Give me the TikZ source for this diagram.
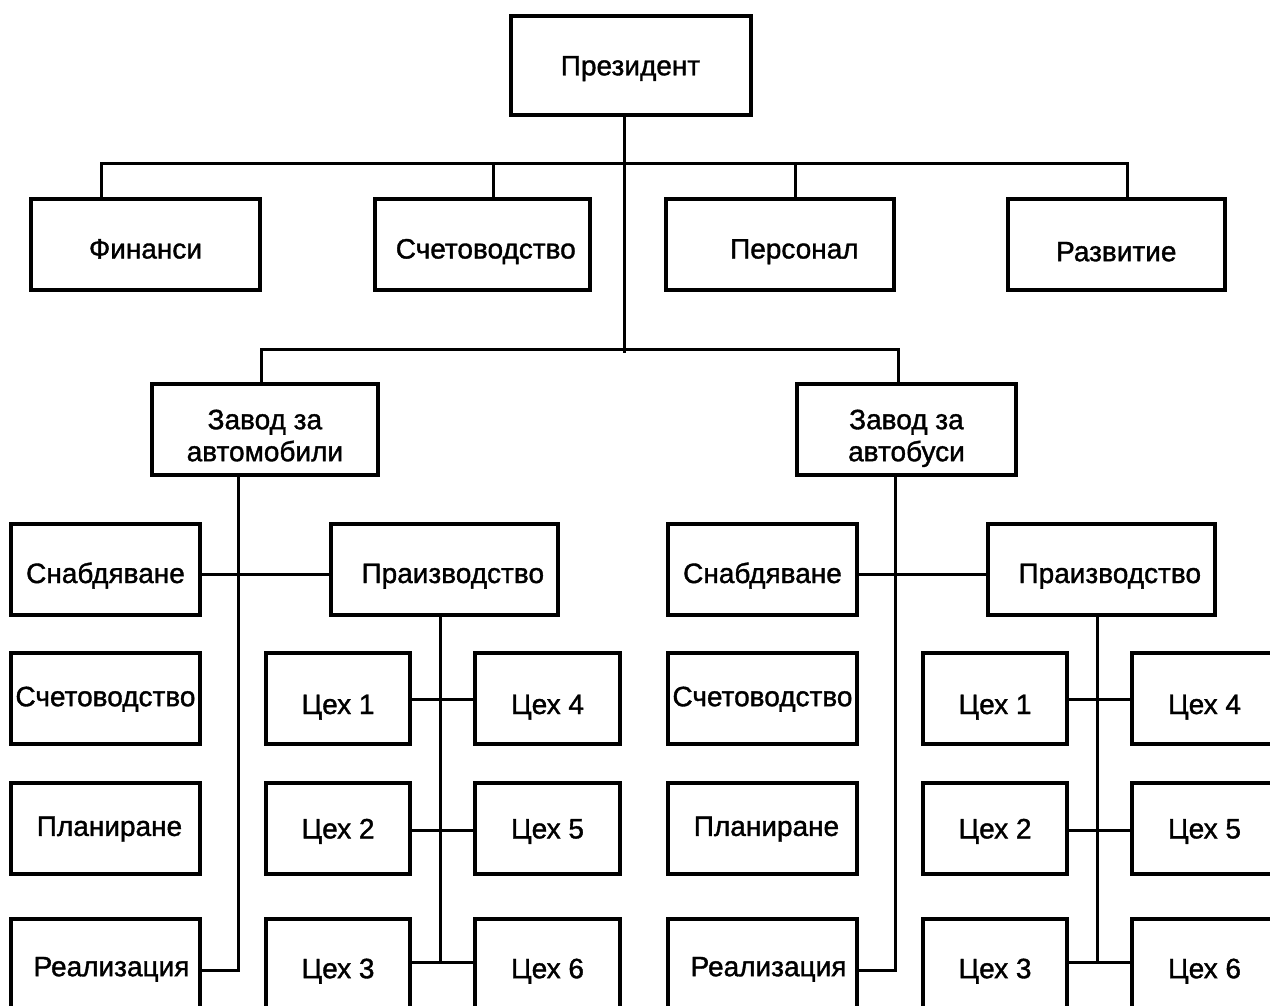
\documentclass[tikz,border=0pt]{standalone}
\usepackage{fontspec}
\setmainfont[RawFeature={embolden=1.3}]{Liberation Sans}
\begin{document}
\begin{tikzpicture}[x=1pt,y=-1pt,
  box/.style={draw, line width=4pt, inner sep=0pt, align=center,
    font=\fontsize{28}{32}\selectfont},
  one/.style={text height=#1, text depth=0pt},
  one/.default=20pt,
  two/.style={align=flush center, text height=20pt, text depth=20pt},
  link/.style={line width=3pt}]
\path[use as bounding box] (0,0) rectangle (1270,1006);
\fill[white] (0,0) rectangle (1270,1006);
\clip (0,0) rectangle (1270,1006);

% top management
\node[box,one=20pt,minimum width=240pt,minimum height=98.7pt] (pres) at (630.5,65.3) {Президент};

\node[box,one=27.4pt,minimum width=228.4pt,minimum height=91pt] (fin)  at (145.5,244.8) {Финанси};
\node[box,one=27.4pt,minimum width=214.4pt,minimum height=91pt] (sch)  at (482.5,244.8) {\hspace*{6.6pt}Счетоводство};
\node[box,one=27.4pt,minimum width=227.7pt,minimum height=91pt] (pers) at (779.9,244.8) {\hspace*{29pt}Персонал};
\node[box,one=32.8pt,minimum width=216.7pt,minimum height=91pt] (razv) at (1116.3,244.8) {Развитие};

% the two plants: first baseline on the box centre, 32pt line pitch
\node[box,two,minimum width=226.3pt,minimum height=91pt] (zavA) at (264.9,429.2)
  {\begin{tabular}[t]{@{}c@{}}Завод за\\автомобили\end{tabular}};
\node[box,two,minimum width=219pt,minimum height=91pt]   (zavB) at (906.5,429.2)
  {\begin{tabular}[t]{@{}c@{}}Завод за\\автобуси\end{tabular}};

% bus under the president
\coordinate (b1) at (101,164);
\coordinate (b2) at (493.3,164);
\coordinate (b3) at (795.7,164);
\coordinate (b4) at (1127.7,164);
\coordinate (trunk) at (624.3,353);
\draw[link] (pres.south -| trunk) -- (trunk);
\draw[link] (fin.north -| b1) -- (b1) -- (b4) -- (razv.north -| b4);
\draw[link] (b2) -- (sch.north -| b2);
\draw[link] (b3) -- (pers.north -| b3);

% bus to the plants
\coordinate (c1) at (261,349.3);
\coordinate (c2) at (898,349.3);
\draw[link] (zavA.north -| c1) -- (c1) -- (c2) -- (zavB.north -| c2);

% departments of each plant; \ew widens the outer workshop column
\foreach \s/\dx/\ew in {A/0/0,B/657/24}{
  \begin{scope}[xshift=\dx]
    \node[box,one=28pt,minimum width=189pt,minimum height=91pt] (snab\s) at (105.5,569)   {Снабдяване};
    \node[box,one=16pt,minimum width=189pt,minimum height=91pt] (schd\s) at (105.5,698.2) {Счетоводство};
    \node[box,one=15pt,minimum width=189pt,minimum height=91pt] (plan\s) at (105.5,828.4) {\hspace*{8pt}Планиране};
    \node[box,one=24pt,minimum width=189pt,minimum height=91pt] (real\s) at (105.5,964.2) {\hspace*{12pt}Реализация};
    \node[box,one=28pt,minimum width=227pt,minimum height=91pt] (prod\s) at (444.5,569)   {\hspace*{16.6pt}Праизводство};
    \node[box,one=31.6pt,minimum width=144pt,minimum height=91pt] (w1\s) at (338,698.2) {Цех 1};
    \node[box,one=20pt,minimum width=144pt,minimum height=91pt]   (w2\s) at (338,828.4) {Цех 2};
    \node[box,one=28pt,minimum width=144pt,minimum height=91pt]   (w3\s) at (338,964.2) {Цех 3};
    \node[box,one=31.6pt,minimum width=145pt+\ew pt,minimum height=91pt] (w4\s) at (547.5+\ew/2,698.2) {Цех 4\hspace*{\ew pt}};
    \node[box,one=20pt,minimum width=145pt+\ew pt,minimum height=91pt]   (w5\s) at (547.5+\ew/2,828.4) {Цех 5\hspace*{\ew pt}};
    \node[box,one=28pt,minimum width=145pt+\ew pt,minimum height=91pt]   (w6\s) at (547.5+\ew/2,964.2) {Цех 6\hspace*{\ew pt}};

    \coordinate (k\s) at (238.3,970);
    \coordinate (s\s) at (238.3,574);
    \coordinate (p\s) at (440.7,962.3);
    \coordinate (r1\s) at (440.7,699);
    \coordinate (r2\s) at (440.7,830);
  \end{scope}
  \draw[link] (zav\s.south -| k\s) -- (k\s) -- (real\s.east |- k\s);
  \draw[link] (snab\s.east |- s\s) -- (prod\s.west |- s\s);
  \draw[link] (prod\s.south -| p\s) -- (p\s);
  \draw[link] (w1\s.east |- r1\s) -- (w4\s.west |- r1\s);
  \draw[link] (w2\s.east |- r2\s) -- (w5\s.west |- r2\s);
  \draw[link] (w3\s.east |- p\s) -- (w6\s.west |- p\s);
}
\end{tikzpicture}
\end{document}
